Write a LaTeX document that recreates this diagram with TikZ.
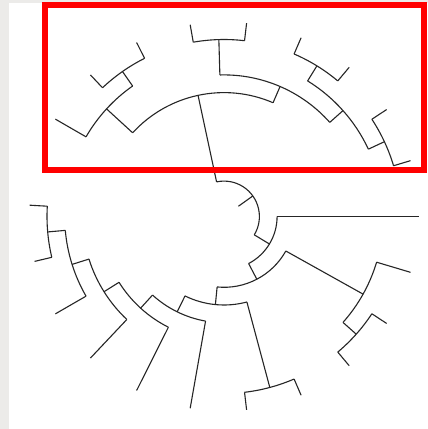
\documentclass[tikz,border=0pt]{standalone}
\usepackage{tikz}

\definecolor{bggray}{RGB}{236,235,233}
\definecolor{treeline}{RGB}{38,38,38}

\begin{document}
\begin{tikzpicture}[x=1pt,y=1pt,
    branch/.style={treeline, line width=1.1pt},
    highlight/.style={red, line width=6pt}]
% Background
\fill[bggray] (-224,-212.5) rectangle (204,216.5);
\fill[white] (-215,-212.5) rectangle (204,213.5);
\useasboundingbox (-224,-212.5) rectangle (204,216.5);

% level spacing
\def\h{17.7}
\coordinate (centre) at (0,0);

% Radial branches: angle / inner level / outer level
\foreach \a/\i/\o in {
    35.449/1/2,                            % root stem
    102.083/2/7, -31.185/2/3,              % main split
    0/3/11, -62.37/3/4,
    -29.167/4/9, -95.573/4/5,
    -16.667/9/11, -41.667/9/10,
    -33.333/10/11, -50/10/11,
    -75/5/10, -116.146/5/6,
    -66.667/10/11, -83.333/10/11,
    -100/6/11, -132.292/6/7,
    -116.667/7/11, -147.917/7/8,
    -133.333/8/11, -162.5/8/9,
    -150/9/11, -175/9/10,
    -166.667/10/11, -183.333/10/11,
    137.5/7/9, 66.667/7/8,
    150/9/11, 125/9/10,
    133.333/10/11, 116.667/10/11,
    91.667/8/10, 41.667/8/9,
    100/10/11, 83.333/10/11,
    58.333/9/10, 25/9/10,
    66.667/10/11, 50/10/11,
    33.333/10/11, 16.667/10/11}
  \draw[branch] (\a:\i*\h) -- (\a:\o*\h);

% Arcs: level / start angle / end angle
\foreach \l/\s/\e in {
    2/102.083/-31.185,
    3/0/-62.37,
    4/-29.167/-95.573,
    9/-16.667/-41.667,
    10/-33.333/-50,
    5/-75/-116.146,
    10/-66.667/-83.333,
    6/-100/-132.292,
    7/-116.667/-147.917,
    8/-133.333/-162.5,
    9/-150/-175,
    10/-166.667/-183.333,
    7/137.5/66.667,
    9/150/125,
    10/133.333/116.667,
    8/91.667/41.667,
    10/100/83.333,
    9/58.333/25,
    10/66.667/50,
    10/33.333/16.667}
  \draw[branch] (\s:\l*\h) arc[start angle=\s, end angle=\e, radius=\l*\h];

% Highlight box
\draw[highlight] (-178.7,46.8) rectangle (199.7,212);
\end{tikzpicture}
\end{document}
